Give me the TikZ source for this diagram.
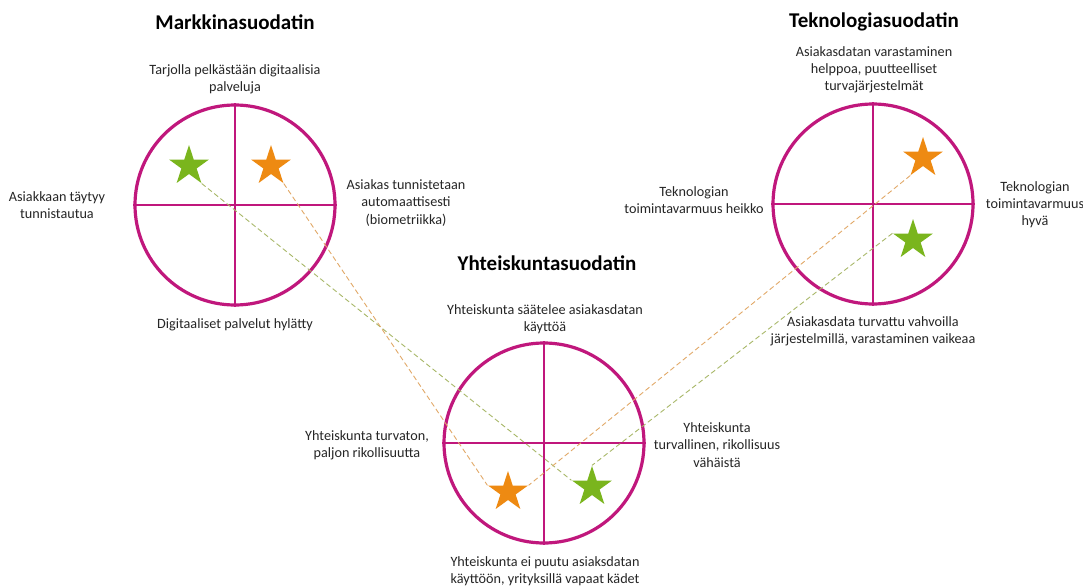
\documentclass[tikz,border=0pt]{standalone}
\usepackage{fontspec}
\setmainfont{Carlito}
\usetikzlibrary{shapes.geometric}
\pgfdeclarelayer{bg}
\pgfdeclarelayer{links}
\pgfsetlayers{bg,links,main}
\definecolor{berry}{HTML}{C0177C}
\definecolor{starorange}{HTML}{EE8A12}
\definecolor{stargreen}{HTML}{7AB51D}
\definecolor{lineorange}{HTML}{E2A968}
\definecolor{linegreen}{HTML}{A8B868}
\tikzset{
 filter/.style={circle, draw=berry, line width=3.2pt, minimum size=200pt, inner sep=0pt},
 cross/.style={draw=berry, line width=2.4pt},
 starshape/.style={star, star points=5, star point ratio=2.618, minimum size=42pt, inner sep=0pt, draw=none},
 ostar/.style={starshape, fill=starorange},
 gstar/.style={starshape, fill=stargreen},
 title/.style={font=\fontsize{21}{25}\selectfont\bfseries, text=black},
 lbl/.style={font=\fontsize{14.2}{17.2}\selectfont, align=center, text=black!85},
 olink/.style={draw=lineorange, line width=0.9pt, dash pattern=on 5pt off 3pt},
 glink/.style={draw=linegreen, line width=0.9pt, dash pattern=on 5pt off 3pt}
}
\begin{document}
\begin{tikzpicture}[x=1pt,y=-1pt]
\useasboundingbox (0,0) rectangle (1083,586);

% circles
\begin{pgfonlayer}{bg}
\fill[white] (0,0) rectangle (1083,586);
\node[filter] (c1) at (235,205) {};
\node[filter] (c2) at (544,443) {};
\node[filter] (c3) at (873,204) {};
\foreach \c in {c1,c2,c3}{
  \draw[cross] (\c.north) -- (\c.south);
  \draw[cross] (\c.west) -- (\c.east);
}
\end{pgfonlayer}

% titles
\node[title] (t1) at (235,22) {Markkinasuodatin};
\node[title] (t2) at (547,263) {Yhteiskuntasuodatin};
\node[title] (t3) at (874,22) {Teknologiasuodatin};

% labels circle 1
\node[lbl] (l1t) at (235,79) {Tarjolla pelkästään digitaalisia\\palveluja};
\node[lbl] (l1l) at (57,205.5) {Asiakkaan täytyy\\tunnistautua};
\node[lbl] (l1r) at (406,203) {Asiakas tunnistetaan\\automaattisesti\\(biometriikka)};
\node[lbl] (l1b) at (235,325) {Digitaaliset palvelut hylätty};

% labels circle 2
\node[lbl] (l2t) at (545,319) {Yhteiskunta säätelee asiakasdatan\\käyttöä};
\node[lbl] (l2l) at (367,445) {Yhteiskunta turvaton,\\paljon rikollisuutta};
\node[lbl] (l2r) at (717,445) {Yhteiskunta\\turvallinen, rikollisuus\\vähäistä};
\node[lbl] (l2b) at (545,571.5) {Yhteiskunta ei puutu asiaksdatan\\käyttöön, yrityksillä vapaat kädet};

% labels circle 3
\node[lbl] (l3t) at (874,70) {Asiakasdatan varastaminen\\helppoa, puutteelliset\\turvajärjestelmät};
\node[lbl] (l3l) at (694,200) {Teknologian\\toimintavarmuus heikko};
\node[lbl] (l3r) at (1035,204.5) {Teknologian\\toimintavarmuus\\hyvä};
\node[lbl] (l3b) at (873,331) {Asiakasdata turvattu vahvoilla\\järjestelmillä, varastaminen vaikeaa};

% stars
\node[gstar] (g1) at (189,166) {};
\node[ostar] (o1) at (271,166) {};
\node[ostar] (o2) at (508,492) {};
\node[gstar] (g2) at (592,487) {};
\node[ostar] (o3) at (923,158) {};
\node[gstar] (g3) at (913,240) {};

% connectors
\begin{pgfonlayer}{links}
\draw[glink] (g1.outer point 4) -- (g2.outer point 2);
\draw[olink] (o1.outer point 4) -- (o2.outer point 2);
\draw[olink] (o3.outer point 3) -- (o2.outer point 5);
\draw[glink] (g3.outer point 2) -- (g2.outer point 1);
\end{pgfonlayer}
\end{tikzpicture}
\end{document}
